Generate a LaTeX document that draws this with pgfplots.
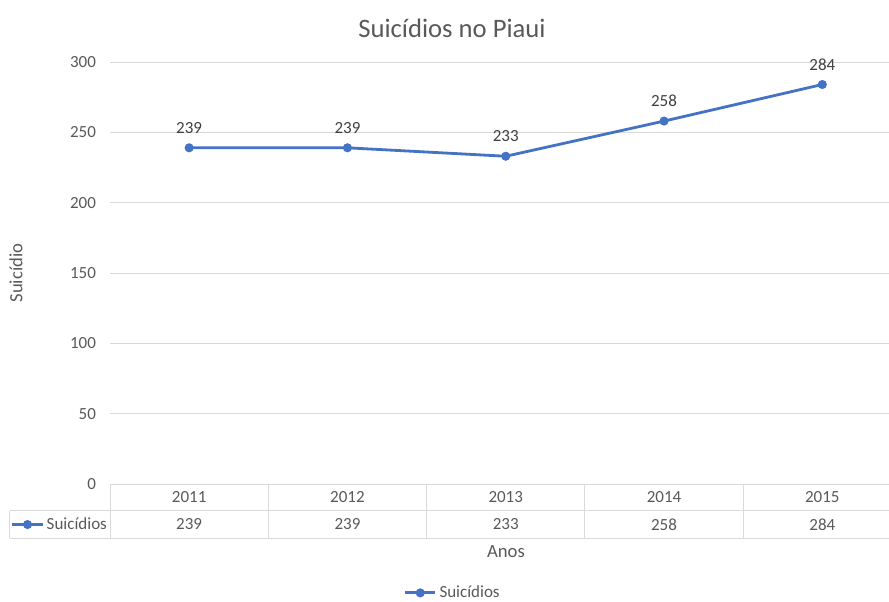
\documentclass[border=0pt]{standalone}
\usepackage{pgfplots}
\pgfplotsset{compat=1.18}
\usepackage{fontspec}
\setmainfont{Carlito}
\definecolor{lblue}{HTML}{4472C4}
\definecolor{gridc}{HTML}{D9D9D9}
\definecolor{txt}{HTML}{595959}
\definecolor{dtxt}{HTML}{404040}
\newcommand{\tf}{\fontsize{12.75}{15}\selectfont}
\pgfplotsset{
  legend image code/.code={\draw[#1, mark repeat=2, mark phase=2] plot coordinates {(0cm,0cm)(0.4cm,0cm)(0.8cm,0cm)};}
}
\begin{document}
\begin{tikzpicture}
\useasboundingbox (0,0) rectangle (666.75pt,-451.5pt);
\begin{axis}[
  at={(82.5pt,-363pt)}, anchor=south west,
  scale only axis, width=593.6pt, height=316.5pt,
  xmin=-0.5, xmax=4.5, ymin=0, ymax=300,
  xtick={0,1,2,3,4}, xticklabels={2011,2012,2013,2014,2015},
  ytick={0,50,...,300},
  major tick length=0pt,
  axis line style={draw=none},
  ymajorgrids, grid style={gridc, line width=0.75pt},
  tick label style={font=\tf, color=txt},
  /pgf/number format/assume math mode=true,
  yticklabel style={xshift=-7pt},
  xticklabel style={anchor=center, yshift=-10.1pt},
  clip=false,
  legend style={at={(0.4334,-0.258)}, anchor=center, draw=none, font=\tf, text=txt, fill=none, inner sep=1pt},
]
\addplot[lblue, line width=2.1pt, mark=*, mark size=2.3pt,
  nodes near coords, nodes near coords style={font=\tf, color=dtxt, anchor=center, yshift=15pt}]
  coordinates {(0,239)(1,239)(2,233)(3,258)(4,284)};
\addlegendentry{Suicídios}
% data table grid
\draw[gridc, line width=0.75pt] (axis cs:-1.132,-19.19) -- (axis cs:4.5,-19.19);
\draw[gridc, line width=0.75pt] (axis cs:-1.132,-38.39) -- (axis cs:4.5,-38.39);
\draw[gridc, line width=0.75pt] (axis cs:-1.132,-19.19) -- (axis cs:-1.132,-38.39);
\pgfplotsinvokeforeach{-0.5,0.5,1.5,2.5,3.5,4.5}{
  \draw[gridc, line width=0.75pt] (axis cs:#1,0) -- (axis cs:#1,-38.39);
}
\node[font=\tf, text=txt] at (axis cs:0,-28.79) {239};
\node[font=\tf, text=txt] at (axis cs:1,-28.79) {239};
\node[font=\tf, text=txt] at (axis cs:2,-28.79) {233};
\node[font=\tf, text=txt] at (axis cs:3,-28.79) {258};
\node[font=\tf, text=txt] at (axis cs:4,-28.79) {284};
\end{axis}
\begin{axis}[
  at={(8pt,-393.4pt)}, anchor=west,
  hide axis, scale only axis, width=10pt, height=10pt,
  xmin=0, xmax=1, ymin=0, ymax=1,
  legend style={at={(0,0.5)}, anchor=west, draw=none, fill=none, font=\tf, text=txt, inner sep=0pt},
]
\addlegendimage{lblue, line width=2.1pt, mark=*, mark size=2.3pt}
\addlegendentry{Suicídios}
\end{axis}
\node[font=\fontsize{20}{24}\selectfont, text=txt] at (339pt,-21pt) {Suicídios no Piaui};
\node[font=\fontsize{14}{17}\selectfont, text=txt] at (379.5pt,-414pt) {Anos};
\node[font=\fontsize{14}{17}\selectfont, text=txt, rotate=90] at (12pt,-204.75pt) {Suicídio};
\end{tikzpicture}
\end{document}
